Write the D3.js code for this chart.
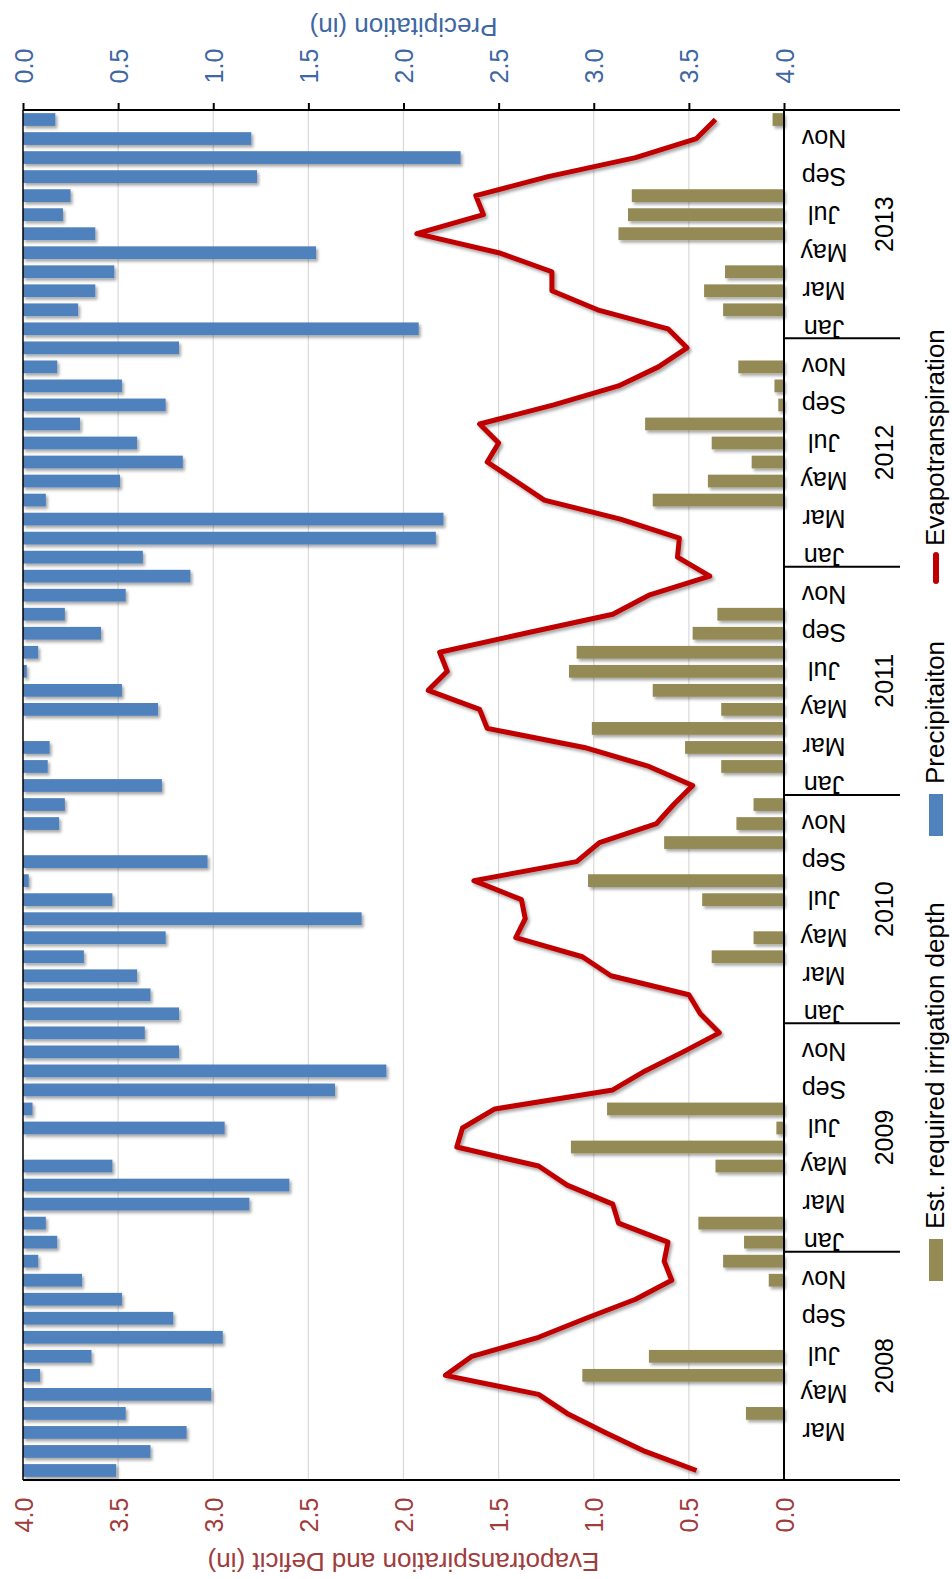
<!DOCTYPE html>
<html>
<head>
<meta charset="utf-8">
<script src="https://cdn.jsdelivr.net/npm/d3@7"></script>
<style>
  html, body { margin: 0; padding: 0; background: #ffffff; }
  svg { display: block; font-family: "Liberation Sans", Arial, sans-serif; }
</style>
</head>
<body>
<script>
// Monthly water balance, Jan 2008 – Dec 2013 (inches)
const years = [2008, 2009, 2010, 2011, 2012, 2013];
const monthNames = ["Jan", "Feb", "Mar", "Apr", "May", "Jun", "Jul", "Aug", "Sep", "Oct", "Nov", "Dec"];

const precipitation = [
  0.49, 0.67, 0.86, 0.54, 0.99, 0.09, 0.36, 1.05, 0.79, 0.52, 0.31, 0.08,
  0.18, 0.12, 1.19, 1.40, 0.47, 0.00, 1.06, 0.05, 1.64, 1.91, 0.82, 0.64,
  0.82, 0.67, 0.60, 0.32, 0.75, 1.78, 0.47, 0.03, 0.97, 0.00, 0.19, 0.22,
  0.73, 0.13, 0.14, 0.00, 0.71, 0.52, 0.02, 0.08, 0.41, 0.22, 0.54, 0.88,
  0.63, 2.17, 2.21, 0.12, 0.51, 0.84, 0.60, 0.30, 0.75, 0.52, 0.18, 0.82,
  2.08, 0.29, 0.38, 0.48, 1.54, 0.38, 0.21, 0.25, 1.23, 2.30, 1.20, 0.17
];

const evapotranspiration = [
  0.46, 0.73, 0.94, 1.14, 1.29, 1.78, 1.64, 1.29, 1.04, 0.78, 0.59, 0.63,
  0.61, 0.87, 0.90, 1.14, 1.29, 1.72, 1.69, 1.52, 0.90, 0.73, 0.53, 0.34,
  0.44, 0.50, 0.91, 1.06, 1.41, 1.36, 1.38, 1.63, 1.09, 0.97, 0.67, 0.58,
  0.48, 0.71, 1.05, 1.56, 1.60, 1.87, 1.77, 1.81, 1.36, 0.90, 0.71, 0.39,
  0.56, 0.55, 0.86, 1.26, 1.41, 1.56, 1.50, 1.60, 1.21, 0.87, 0.66, 0.51,
  0.61, 0.98, 1.22, 1.22, 1.50, 1.93, 1.58, 1.62, 1.24, 0.78, 0.46, 0.36
];

const irrigation = [
  0.00, 0.00, 0.00, 0.20, 0.00, 1.06, 0.71, 0.00, 0.00, 0.00, 0.08, 0.32,
  0.21, 0.45, 0.00, 0.00, 0.36, 1.12, 0.04, 0.93, 0.00, 0.00, 0.00, 0.00,
  0.00, 0.00, 0.00, 0.38, 0.16, 0.00, 0.43, 1.03, 0.00, 0.63, 0.25, 0.16,
  0.00, 0.33, 0.52, 1.01, 0.33, 0.69, 1.13, 1.09, 0.48, 0.35, 0.00, 0.00,
  0.00, 0.00, 0.00, 0.69, 0.40, 0.17, 0.38, 0.73, 0.03, 0.05, 0.24, 0.00,
  0.00, 0.32, 0.42, 0.31, 0.00, 0.87, 0.82, 0.80, 0.00, 0.00, 0.00, 0.06
];

const valueTicks = [0, 0.5, 1, 1.5, 2, 2.5, 3, 3.5, 4];
const legendItems = [
  { label: "Est. required irrigation depth", kind: "bar", color: "#948A54" },
  { label: "Precipitaiton", kind: "bar", color: "#4F81BD" },
  { label: "Evapotranspiration", kind: "line", color: "#C00000" }
];

const W = 952, H = 1579;
const plotLeft = 23, axisX = 784, plotTop = 110, plotBottom = 1480, sepEnd = 900;
const FONT = 25;
const BLUE_TXT = "#3E67A3", RED_TXT = "#A03C3C";

const svg = d3.select("body").append("svg").attr("width", W).attr("height", H);

const defs = svg.append("defs");
const shadow = defs.append("filter").attr("id", "shadow")
  .attr("x", "-10%").attr("y", "-30%").attr("width", "130%").attr("height", "180%");
shadow.append("feDropShadow").attr("dx", 2).attr("dy", 2.5).attr("stdDeviation", 1.6)
  .attr("flood-color", "#000").attr("flood-opacity", 0.35);

const n = precipitation.length;
const idx = d3.range(n);

// Time runs upward; both value scales run horizontally
const y = d3.scaleBand().domain(idx).range([plotBottom, plotTop]).paddingInner(0.33).paddingOuter(0.165);
const yLin = d3.scaleLinear().domain([0, n]).range([plotBottom, plotTop]);
const xP = d3.scaleLinear().domain([0, 4]).range([plotLeft, axisX]);
const xE = d3.scaleLinear().domain([0, 4]).range([axisX, plotLeft]);
const yc = i => y(i) + y.bandwidth() / 2;

// Gridlines
svg.append("g").selectAll("line")
  .data(valueTicks.filter(v => v > 0 && v < 4))
  .join("line")
  .attr("x1", d => xP(d)).attr("x2", d => xP(d))
  .attr("y1", plotTop).attr("y2", plotBottom)
  .attr("stroke", "#D9D9D9").attr("stroke-width", 1.2);

// Precipitation bars hang from the left edge
svg.append("g").attr("filter", "url(#shadow)").selectAll("rect")
  .data(idx.filter(i => precipitation[i] > 0))
  .join("rect")
  .attr("x", xP(0))
  .attr("y", i => y(i))
  .attr("width", i => xP(precipitation[i]) - xP(0))
  .attr("height", y.bandwidth())
  .attr("fill", "#4F81BD");

// Irrigation deficit bars grow from the category axis
svg.append("g").attr("filter", "url(#shadow)").selectAll("rect")
  .data(idx.filter(i => irrigation[i] > 0))
  .join("rect")
  .attr("x", i => xE(irrigation[i]))
  .attr("y", i => y(i))
  .attr("width", i => xE(0) - xE(irrigation[i]))
  .attr("height", y.bandwidth())
  .attr("fill", "#948A54");

// Evapotranspiration line
const etLine = d3.line().x(i => xE(evapotranspiration[i])).y(i => yc(i));
svg.append("path")
  .datum(idx)
  .attr("d", etLine)
  .attr("fill", "none")
  .attr("stroke", "#C00000")
  .attr("stroke-width", 5)
  .attr("stroke-linejoin", "round")
  .attr("filter", "url(#shadow)");

// Top axis: precipitation
const topAxis = svg.append("g").attr("transform", `translate(0,${plotTop})`)
  .call(d3.axisTop(xP).tickValues(valueTicks).tickSize(7).tickFormat(d3.format(".1f")));
topAxis.select(".domain").remove();
topAxis.selectAll(".tick line").attr("stroke", "#000").attr("stroke-width", 2);
topAxis.selectAll(".tick text")
  .attr("x", 0).attr("y", 0).attr("dy", null)
  .attr("text-anchor", "middle").attr("dominant-baseline", "central")
  .attr("transform", "translate(0,-44) rotate(-90)")
  .attr("fill", BLUE_TXT)
  .style("font-size", FONT + "px").style("font-family", "'Liberation Sans', Arial, sans-serif");

// Bottom axis: evapotranspiration and deficit
const botAxis = svg.append("g").attr("transform", `translate(0,${plotBottom})`)
  .call(d3.axisBottom(xE).tickValues(valueTicks).tickSize(0).tickFormat(d3.format(".1f")));
botAxis.select(".domain").remove();
botAxis.selectAll(".tick text")
  .attr("x", 0).attr("y", 0).attr("dy", null)
  .attr("text-anchor", "middle").attr("dominant-baseline", "central")
  .attr("transform", "translate(0,35) rotate(-90)")
  .attr("fill", RED_TXT)
  .style("font-size", FONT + "px").style("font-family", "'Liberation Sans', Arial, sans-serif");

// Frame lines
const frame = svg.append("g").attr("stroke", "#000").attr("stroke-width", 2);
frame.append("line").attr("x1", plotLeft).attr("x2", sepEnd).attr("y1", plotTop).attr("y2", plotTop);
frame.append("line").attr("x1", plotLeft).attr("x2", sepEnd).attr("y1", plotBottom).attr("y2", plotBottom);
frame.append("line").attr("x1", plotLeft).attr("x2", plotLeft).attr("y1", plotTop).attr("y2", plotBottom).attr("stroke-width", 1.5);
frame.append("line").attr("x1", axisX).attr("x2", axisX).attr("y1", plotTop).attr("y2", plotBottom);
frame.selectAll("line.sep")
  .data(years.slice(1))
  .join("line").attr("class", "sep")
  .attr("x1", axisX).attr("x2", sepEnd)
  .attr("y1", (d, k) => yLin((k + 1) * 12)).attr("y2", (d, k) => yLin((k + 1) * 12));

// Month labels (every other month)
const monthX = 824;
svg.append("g").selectAll("text")
  .data(idx.filter(i => i % 2 === 0 && i > 0))
  .join("text")
  .attr("transform", i => `translate(${monthX},${yc(i)}) rotate(180)`)
  .attr("text-anchor", "middle").attr("dominant-baseline", "central")
  .attr("fill", "#000").style("font-size", FONT + "px")
  .text(i => monthNames[i % 12]);

// Year labels
svg.append("g").selectAll("text")
  .data(years)
  .join("text")
  .attr("transform", (d, k) => `translate(884,${(yLin(k * 12) + yLin((k + 1) * 12)) / 2}) rotate(-90)`)
  .attr("text-anchor", "middle").attr("dominant-baseline", "central")
  .attr("fill", "#000").style("font-size", FONT + "px")
  .text(d => d);

// Axis titles
svg.append("text")
  .attr("transform", `translate(${(plotLeft + axisX) / 2},27) rotate(180)`)
  .attr("text-anchor", "middle").attr("dominant-baseline", "central")
  .attr("fill", BLUE_TXT).style("font-size", "26px")
  .text("Precipitation (in)");
svg.append("text")
  .attr("transform", `translate(${(plotLeft + axisX) / 2},1562) rotate(180)`)
  .attr("text-anchor", "middle").attr("dominant-baseline", "central")
  .attr("fill", RED_TXT).style("font-size", "26px")
  .text("Evapotranspiration and Deficit (in)");

// Legend, reading upward along the right edge
const legendPos = [1281, 836, 584];
const legend = svg.append("g").selectAll("g")
  .data(legendItems)
  .join("g")
  .attr("transform", (d, k) => `translate(936,${legendPos[k]})`);
legend.each(function (d) {
  const g = d3.select(this);
  if (d.kind === "bar") {
    g.append("rect").attr("x", -7).attr("y", -42).attr("width", 14).attr("height", 42).attr("fill", d.color);
  } else {
    g.append("rect").attr("x", -3).attr("y", -32).attr("width", 6).attr("height", 32).attr("rx", 3).attr("fill", d.color);
  }
  g.append("text")
    .attr("transform", `translate(-1,${d.kind === "bar" ? -52 : -38}) rotate(-90)`)
    .attr("text-anchor", "start").attr("dominant-baseline", "central")
    .attr("fill", "#000").style("font-size", "26px")
    .text(d.label);
});
</script>
</body>
</html>
